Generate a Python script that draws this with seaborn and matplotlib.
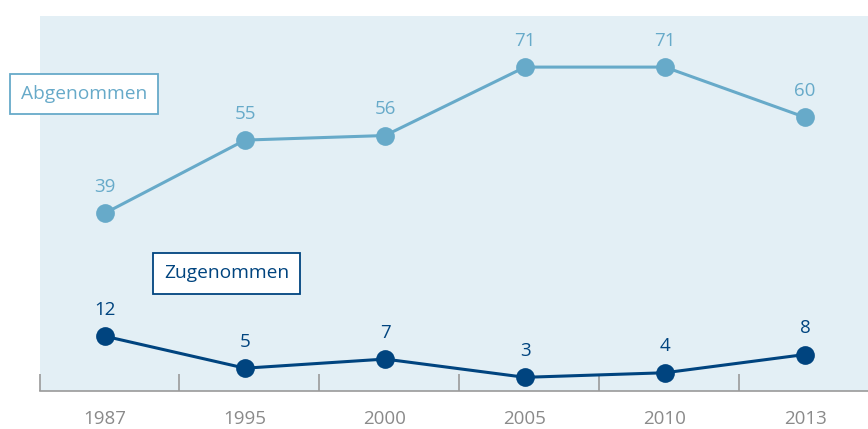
import numpy as np
import pandas as pd
import matplotlib
matplotlib.use("Agg")
import matplotlib.pyplot as plt
import seaborn as sns

years = ["1987", "1995", "2000", "2005", "2010", "2013"]
abgenommen = [39, 55, 56, 71, 71, 60]
zugenommen = [12, 5, 7, 3, 4, 8]

light = "#67aac9"
dark = "#00447f"

sns.set_theme(style="white")
plt.rcParams["font.family"] = ["Open Sans", "DejaVu Sans"]

pos = np.arange(len(years))
df = pd.DataFrame({
    "pos": np.concatenate([pos, pos]),
    "wert": abgenommen + zugenommen,
    "gruppe": ["Abgenommen"] * len(years) + ["Zugenommen"] * len(years),
})

fig = plt.figure(figsize=(8.68, 4.29), dpi=100)
ax = fig.add_axes([40 / 868, 38 / 429, 828 / 868, 375 / 429])
ax.set_facecolor("#e3eff5")

sns.lineplot(
    data=df, x="pos", y="wert", hue="gruppe",
    palette={"Abgenommen": light, "Zugenommen": dark},
    marker="o", markersize=13.5, markeredgewidth=0, linewidth=2.2,
    legend=False, ax=ax,
)

for vals, col in [(abgenommen, light), (zugenommen, dark)]:
    for x, v in zip(pos, vals):
        ax.annotate(str(v), (x, v), xytext=(0, 19), textcoords="offset points",
                    ha="center", va="center", fontsize=13.5, color=col)

ax.set_xlim(-0.465, 5.45)
ax.set_ylim(0, 82.2)

for s in ["top", "right", "left"]:
    ax.spines[s].set_visible(False)
ax.spines["bottom"].set_color("#9a9a9a")
ax.spines["bottom"].set_linewidth(1.2)

ax.set_yticks([])
ax.set_xticks(pos)
ax.set_xticklabels(years, fontsize=13.5, color="#8a8a8a")
ax.tick_params(axis="x", which="major", length=0, pad=14)
ax.set_xticks([-0.465, 0.53, 1.53, 2.53, 3.53, 4.53], minor=True)
ax.tick_params(axis="x", which="minor", length=12, width=1.2, direction="in",
               color="#9a9a9a", bottom=True)
ax.set_xlabel("")
ax.set_ylabel("")

fig.text(84 / 868, 1 - 94 / 429, "Abgenommen", ha="center", va="center",
         fontsize=13.8, color=light,
         bbox=dict(boxstyle="square,pad=0.58", fc="white", ec=light, lw=1.3))
fig.text(226.5 / 868, 1 - 273.5 / 429, "Zugenommen", ha="center", va="center",
         fontsize=13.8, color=dark,
         bbox=dict(boxstyle="square,pad=0.58", fc="white", ec=dark, lw=1.3))

fig.savefig("out.png", dpi=100)
